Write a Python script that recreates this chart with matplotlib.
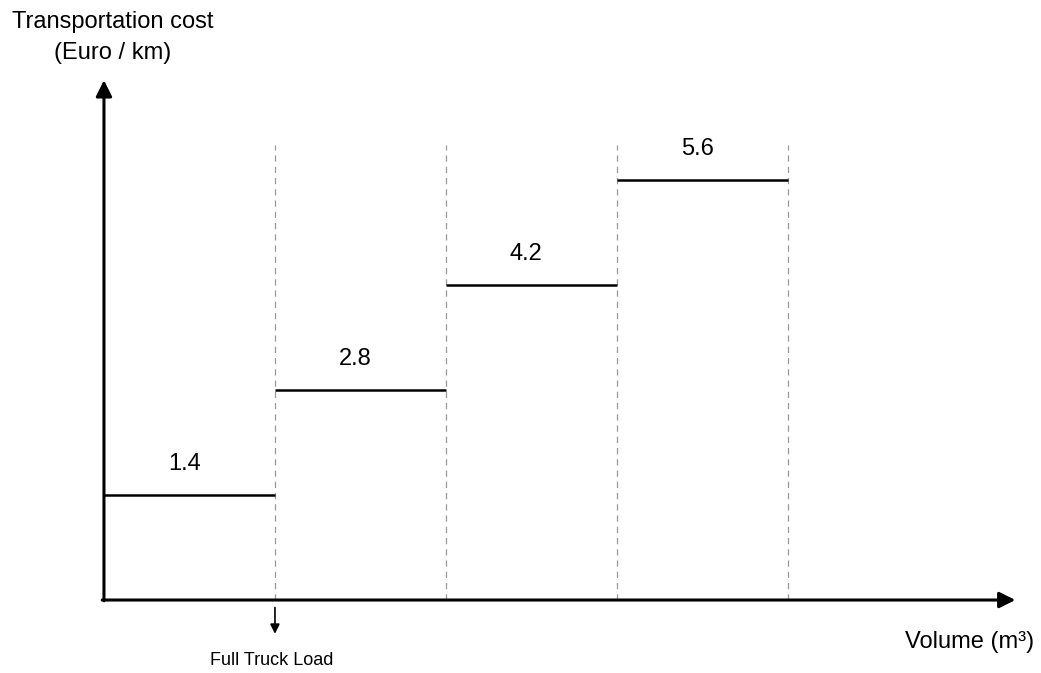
import matplotlib.pyplot as plt

plt.rcParams['font.family'] = ['Liberation Sans', 'DejaVu Sans']

# step breakpoints (volume, in truck loads) and cost per km
edges = [0, 1, 2, 3, 4]
costs = [1.4, 2.8, 4.2, 5.6]
cost_labels = ['1.4', '2.8', '4.2', '5.6']

fig = plt.figure(figsize=(10.41, 6.73), dpi=100)
ax = fig.add_axes([0, 0, 1, 1])
ax.set_xlim(-0.608, 5.48)
ax.set_ylim(-0.973, 8.0)
ax.axis('off')

# axes with arrows
arrow = dict(arrowstyle='-|>', lw=2.2, color='black', mutation_scale=24, shrinkA=0, shrinkB=0)
ax.annotate('', xy=(0, 6.93), xytext=(0, -0.01), arrowprops=arrow)
ax.annotate('', xy=(5.33, 0), xytext=(-0.01, 0), arrowprops=arrow)

# dashed guides at each break
for x in edges[1:]:
    ax.plot([x, x], [0, 6.07], color='#999999', lw=0.9, ls=(0, (5, 4)))

# step segments
for i, c in enumerate(costs):
    ax.plot([edges[i], edges[i + 1]], [c, c], color='black', lw=1.8, solid_capstyle='butt')
    ax.text((edges[i] + edges[i + 1]) / 2 - 0.03, c + 0.42, cost_labels[i],
            ha='center', va='center', fontsize=17)

# full truck load marker
ax.annotate('', xy=(edges[1], -0.45), xytext=(edges[1], -0.1),
            arrowprops=dict(arrowstyle='-|>', lw=1.2, color='black', mutation_scale=14,
                            shrinkA=0, shrinkB=0))
ax.text(edges[1] - 0.02, -0.81, 'Full Truck Load', ha='center', va='center', fontsize=13)

ax.text(0.05, 7.71, 'Transportation cost', ha='center', va='center', fontsize=17)
ax.text(0.05, 7.3, '(Euro / km)', ha='center', va='center', fontsize=17)
ax.text(5.06, -0.56, 'Volume (m³)', ha='center', va='center', fontsize=17)

fig.savefig('out.png', dpi=100)
